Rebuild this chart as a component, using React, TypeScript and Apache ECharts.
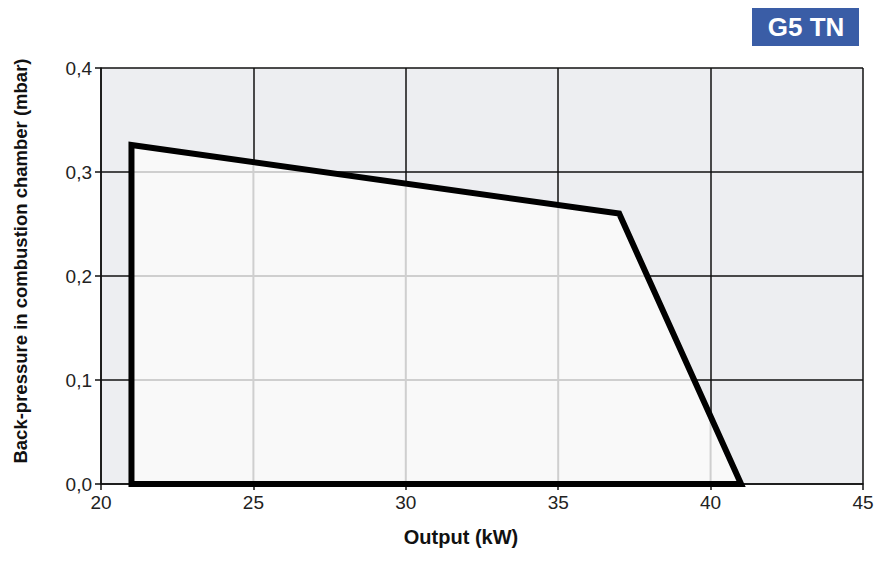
import React, { useEffect, useRef } from "react";
import * as echarts from "echarts";

// Operating field of the burner: output (kW) vs. back-pressure (mbar)
const fieldOutput = [21, 21, 37, 41];
const fieldPressure = [0, 0.326, 0.26, 0];

const xTicks = [20, 25, 30, 35, 40, 45];
const yTicks = [0, 0.1, 0.2, 0.3, 0.4];

const badgeText = "G5 TN";
const xName = "Output (kW)";
const yName = "Back-pressure in combustion chamber (mbar)";

type Pt = [number, number];

// intersections of an axis-parallel line with the polygon's edges
function crossings(poly: Pt[], axis: 0 | 1, v: number): number[] {
  const other = axis === 0 ? 1 : 0;
  const out: number[] = [];
  for (let i = 0; i < poly.length; i++) {
    const a = poly[i];
    const b = poly[(i + 1) % poly.length];
    if (a[axis] === b[axis]) continue;
    const lo = Math.min(a[axis], b[axis]);
    const hi = Math.max(a[axis], b[axis]);
    if (v < lo || v > hi) continue;
    const t = (v - a[axis]) / (b[axis] - a[axis]);
    out.push(a[other] + t * (b[other] - a[other]));
  }
  return out;
}

export default function App() {
  const ref = useRef<HTMLDivElement>(null);

  useEffect(() => {
    if (!ref.current) return;
    const chart = echarts.init(ref.current, null, { renderer: "svg" });
    const poly: Pt[] = fieldOutput.map((x, i) => [x, fieldPressure[i]]);
    const font = "'Liberation Sans', Arial, Helvetica, sans-serif";

    chart.setOption({
      animation: false,
      grid: {
        left: 101,
        right: 29,
        top: 68,
        bottom: 81,
        show: true,
        backgroundColor: "#edeef1",
        borderWidth: 0,
      },
      xAxis: {
        type: "value",
        min: xTicks[0],
        max: xTicks[xTicks.length - 1],
        interval: 5,
        axisLine: { show: true, lineStyle: { color: "#111", width: 1.5 } },
        axisTick: { show: true, length: 6, lineStyle: { color: "#111", width: 1.5 } },
        axisLabel: { fontFamily: font, fontSize: 19, color: "#222", margin: 9 },
        splitLine: { show: true, lineStyle: { color: "#111", width: 1.5 } },
      },
      yAxis: {
        type: "value",
        min: yTicks[0],
        max: yTicks[yTicks.length - 1],
        interval: 0.1,
        axisLine: { show: true, lineStyle: { color: "#111", width: 1.5 } },
        axisTick: { show: true, length: 6, lineStyle: { color: "#111", width: 1.5 } },
        axisLabel: {
          fontFamily: font,
          fontSize: 19,
          color: "#222",
          margin: 9,
          formatter: (v: number) => v.toFixed(1).replace(".", ","),
        },
        splitLine: { show: true, lineStyle: { color: "#111", width: 1.5 } },
      },
      graphic: [
        {
          type: "text",
          x: 461,
          y: 537,
          style: {
            text: xName,
            fill: "#111",
            fontFamily: font,
            fontWeight: "bold",
            fontSize: 20,
            align: "center",
            verticalAlign: "middle",
          },
        },
        {
          type: "text",
          x: 20,
          y: 261,
          rotation: Math.PI / 2,
          style: {
            text: yName,
            fill: "#111",
            fontFamily: font,
            fontWeight: "bold",
            fontSize: 18.5,
            align: "center",
            verticalAlign: "middle",
          },
        },
        {
          type: "rect",
          shape: { x: 752, y: 8, width: 107, height: 38 },
          style: { fill: "#3a5da6" },
        },
        {
          type: "text",
          x: 806,
          y: 27,
          style: {
            text: badgeText,
            fill: "#fff",
            fontFamily: font,
            fontWeight: "bold",
            fontSize: 26,
            align: "center",
            verticalAlign: "middle",
          },
        },
      ],
      series: [
        {
          type: "custom",
          coordinateSystem: "cartesian2d",
          data: [[fieldOutput[0], fieldPressure[0]]],
          renderItem: (_params: any, api: any) => {
            const pts = poly.map((p) => api.coord(p));
            const children: any[] = [
              {
                type: "polygon",
                shape: { points: pts },
                style: { fill: "#f9f9f9", stroke: "none" },
              },
            ];
            // light grid lines inside the field
            xTicks.slice(1, -1).forEach((x) => {
              const ys = crossings(poly, 0, x);
              if (ys.length < 2) return;
              const a = api.coord([x, Math.min(...ys)]);
              const b = api.coord([x, Math.max(...ys)]);
              children.push({
                type: "line",
                shape: { x1: a[0], y1: a[1], x2: b[0], y2: b[1] },
                style: { stroke: "#cfcfcf", lineWidth: 2 },
              });
            });
            yTicks.slice(1, -1).forEach((y) => {
              const xs = crossings(poly, 1, y);
              if (xs.length < 2) return;
              const a = api.coord([Math.min(...xs), y]);
              const b = api.coord([Math.max(...xs), y]);
              children.push({
                type: "line",
                shape: { x1: a[0], y1: a[1], x2: b[0], y2: b[1] },
                style: { stroke: "#cfcfcf", lineWidth: 2 },
              });
            });
            children.push({
              type: "polygon",
              shape: { points: pts },
              style: { fill: "none", stroke: "#000", lineWidth: 6, lineJoin: "miter" },
            });
            return { type: "group", children };
          },
          z: 5,
          clip: false,
          silent: true,
        },
      ],
    });

    return () => chart.dispose();
  }, []);

  return (
    <div
      ref={ref}
      style={{ position: "absolute", left: 0, top: 0, width: 892, height: 565 }}
    />
  );
}
